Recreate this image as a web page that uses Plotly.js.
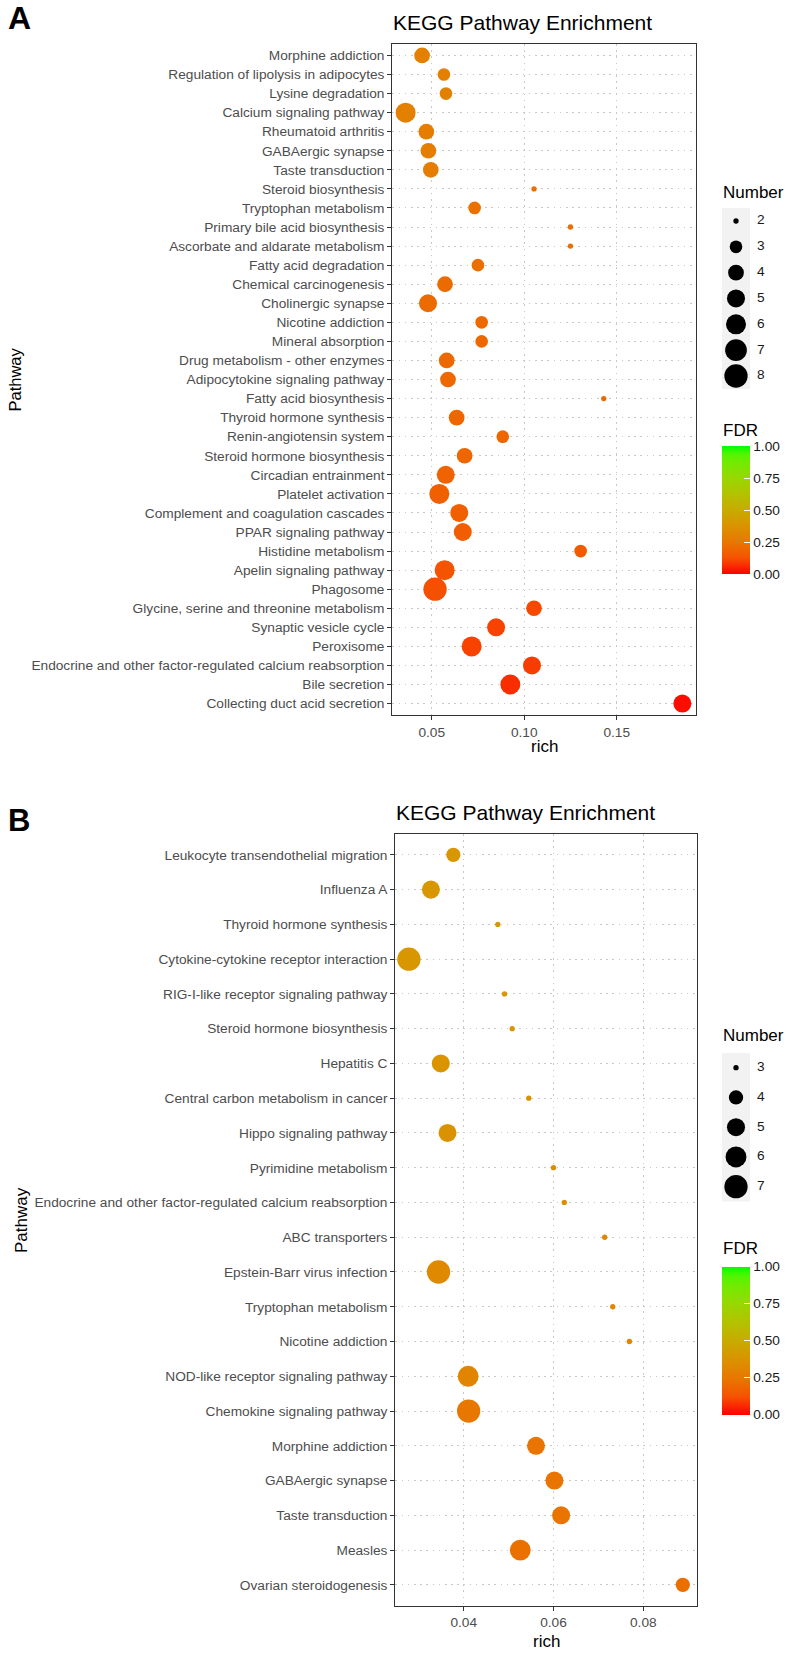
<!DOCTYPE html>
<html>
<head>
<meta charset="utf-8">
<script src="https://cdn.plot.ly/plotly-3.0.1.min.js"></script>
<style>html,body{margin:0;padding:0;background:#fff;}#chart{width:790px;height:1655px;}</style>
</head>
<body>
<div id="chart"></div>
<script>
// ---------------- DATA ----------------
const pathwaysA = [
  "Morphine addiction", "Regulation of lipolysis in adipocytes", "Lysine degradation",
  "Calcium signaling pathway", "Rheumatoid arthritis", "GABAergic synapse", "Taste transduction",
  "Steroid biosynthesis", "Tryptophan metabolism", "Primary bile acid biosynthesis",
  "Ascorbate and aldarate metabolism", "Fatty acid degradation", "Chemical carcinogenesis",
  "Cholinergic synapse", "Nicotine addiction", "Mineral absorption",
  "Drug metabolism - other enzymes", "Adipocytokine signaling pathway", "Fatty acid biosynthesis",
  "Thyroid hormone synthesis", "Renin-angiotensin system", "Steroid hormone biosynthesis",
  "Circadian entrainment", "Platelet activation", "Complement and coagulation cascades",
  "PPAR signaling pathway", "Histidine metabolism", "Apelin signaling pathway", "Phagosome",
  "Glycine, serine and threonine metabolism", "Synaptic vesicle cycle", "Peroxisome",
  "Endocrine and other factor-regulated calcium reabsorption", "Bile secretion",
  "Collecting duct acid secretion"
];
const richA = [
  0.0448, 0.0566, 0.0577, 0.0359, 0.0471, 0.0482, 0.0495, 0.1053, 0.0732, 0.1250,
  0.1250, 0.0750, 0.0572, 0.0480, 0.0770, 0.0770, 0.0581, 0.0588, 0.1430, 0.0635,
  0.0884, 0.0678, 0.0576, 0.0541, 0.0649, 0.0668, 0.1305, 0.0570, 0.0518, 0.1053,
  0.0848, 0.0716, 0.1042, 0.0925, 0.1855
];
const countA = [
  4, 3, 3, 6, 4, 4, 4, 2, 3, 2,
  2, 3, 4, 5, 3, 3, 4, 4, 2, 4,
  3, 4, 5, 6, 5, 5, 3, 6, 8, 4,
  5, 6, 5, 6, 5
];
const fdrA = [
  0.29, 0.29, 0.29, 0.29, 0.28, 0.28, 0.28, 0.23, 0.23, 0.22,
  0.22, 0.22, 0.21, 0.21, 0.20, 0.20, 0.20, 0.20, 0.20, 0.19,
  0.19, 0.19, 0.18, 0.17, 0.17, 0.16, 0.15, 0.13, 0.12, 0.11,
  0.10, 0.10, 0.09, 0.07, 0.02
];

const pathwaysB = [
  "Leukocyte transendothelial migration", "Influenza A", "Thyroid hormone synthesis",
  "Cytokine-cytokine receptor interaction", "RIG-I-like receptor signaling pathway",
  "Steroid hormone biosynthesis", "Hepatitis C", "Central carbon metabolism in cancer",
  "Hippo signaling pathway", "Pyrimidine metabolism",
  "Endocrine and other factor-regulated calcium reabsorption", "ABC transporters",
  "Epstein-Barr virus infection", "Tryptophan metabolism", "Nicotine addiction",
  "NOD-like receptor signaling pathway", "Chemokine signaling pathway", "Morphine addiction",
  "GABAergic synapse", "Taste transduction", "Measles", "Ovarian steroidogenesis"
];
const richB = [
  0.0377, 0.0327, 0.0476, 0.0278, 0.0491, 0.0508, 0.0349, 0.0545, 0.0364, 0.0600,
  0.0624, 0.0714, 0.0344, 0.0732, 0.0769, 0.0410, 0.0411, 0.0561, 0.0602, 0.0617,
  0.0526, 0.0888
];
const countB = [
  4, 5, 3, 7, 3, 3, 5, 3, 5, 3,
  3, 3, 7, 3, 3, 6, 7, 5, 5, 5,
  6, 4
];
const fdrB = [
  0.39, 0.39, 0.39, 0.39, 0.39, 0.39, 0.38, 0.37, 0.37, 0.35,
  0.35, 0.33, 0.33, 0.32, 0.31, 0.31, 0.25, 0.24, 0.24, 0.24,
  0.23, 0.22
];

const numberLegendA = [2, 3, 4, 5, 6, 7, 8];
const numberLegendB = [3, 4, 5, 6, 7];
const fdrTicks = [0, 0.25, 0.5, 0.75, 1];
const fdrTickText = ["0.00", "0.25", "0.50", "0.75", "1.00"];
const xTicksA = [0.05, 0.10, 0.15];
const xTicksB = [0.04, 0.06, 0.08];
const chartTitle = "KEGG Pathway Enrichment";

// ---------------- STYLE / SCALES ----------------
const W = 790, H = 1655;
const FONT = "Liberation Sans, Arial, Helvetica, sans-serif";
const px = p => p / W;
const py = p => 1 - p / H;
// ggplot-like area scale: diameter in px
function sizeScale(lo, hi) {
  return c => 3.6 * (1 + 5 * Math.sqrt((c - lo) / (hi - lo))) + 1.7;
}
const sizeA = sizeScale(2, 8);
const sizeB = sizeScale(3, 7);
// red -> green interpolated in Lab (as ggplot scale_colour_gradient)
const fdrScale = [
  [0, "#FF0000"], [0.125, "#F55300"], [0.25, "#E87700"], [0.375, "#DA9300"],
  [0.5, "#C8AB00"], [0.625, "#B3C200"], [0.75, "#98D700"], [0.875, "#70EB00"],
  [0.9375, "#51F500"], [1, "#00FF00"]
];

function colorbar(topPx, lenPx) {
  return {
    x: px(722), xanchor: "left", xpad: 0,
    y: py(topPx), yanchor: "top", ypad: 0,
    thickness: 28, thicknessmode: "pixels",
    len: lenPx, lenmode: "pixels",
    outlinewidth: 0,
    tickmode: "array", tickvals: fdrTicks, ticktext: fdrTickText,
    ticks: "inside", ticklen: 6, tickcolor: "#FFFFFF", tickwidth: 1,
    tickfont: {family: FONT, size: 13.7, color: "#1A1A1A"},
    title: {text: ""}
  };
}

const traces = [
  {
    type: "scatter", mode: "markers", xaxis: "x", yaxis: "y",
    x: richA, y: pathwaysA,
    marker: {
      size: countA.map(sizeA), color: fdrA, cmin: 0, cmax: 1,
      colorscale: fdrScale, showscale: true, colorbar: colorbar(446, 128.3),
      line: {width: 0}, opacity: 1
    },
    hoverinfo: "skip", showlegend: false
  },
  {
    type: "scatter", mode: "markers", xaxis: "x2", yaxis: "y2",
    x: richB, y: pathwaysB,
    marker: {
      size: countB.map(sizeB), color: fdrB, cmin: 0, cmax: 1,
      colorscale: fdrScale, showscale: true, colorbar: colorbar(1266.7, 147.6),
      line: {width: 0}, opacity: 1
    },
    hoverinfo: "skip", showlegend: false
  },
  // Number legend A
  {
    type: "scatter", mode: "markers", xaxis: "x3", yaxis: "y3", opacity: 1,
    x: numberLegendA.map(() => 14), y: numberLegendA,
    marker: {size: numberLegendA.map(sizeA), color: "#000000", opacity: 1, line: {width: 0}},
    hoverinfo: "skip", showlegend: false, cliponaxis: false
  },
  {
    type: "scatter", mode: "text", xaxis: "x3", yaxis: "y3",
    x: numberLegendA.map(() => 35), y: numberLegendA,
    text: numberLegendA.map(String), textposition: "middle right",
    textfont: {family: FONT, size: 13.7, color: "#1A1A1A"},
    hoverinfo: "skip", showlegend: false, cliponaxis: false
  },
  // Number legend B
  {
    type: "scatter", mode: "markers", xaxis: "x4", yaxis: "y4", opacity: 1,
    x: numberLegendB.map(() => 14), y: numberLegendB,
    marker: {size: numberLegendB.map(sizeB), color: "#000000", opacity: 1, line: {width: 0}},
    hoverinfo: "skip", showlegend: false, cliponaxis: false
  },
  {
    type: "scatter", mode: "text", xaxis: "x4", yaxis: "y4",
    x: numberLegendB.map(() => 35), y: numberLegendB,
    text: numberLegendB.map(String), textposition: "middle right",
    textfont: {family: FONT, size: 13.7, color: "#1A1A1A"},
    hoverinfo: "skip", showlegend: false, cliponaxis: false
  }
];

const gridStyle = {
  showgrid: true, gridcolor: "#C8C8C8", gridwidth: 1, griddash: "1.6px,4.6px",
  showline: true, mirror: true, linecolor: "#333333", linewidth: 1.1,
  ticks: "outside", ticklen: 4, tickcolor: "#333333", tickwidth: 1,
  zeroline: false, fixedrange: true,
  tickfont: {family: FONT, size: 13.7, color: "#4D4D4D"}
};

function catAxis(names, domTop, domBottom, anchor) {
  return Object.assign({}, gridStyle, {
    type: "category", categoryorder: "array", categoryarray: names.slice().reverse(),
    range: [-0.6, names.length - 0.4], autorange: false,
    domain: [py(domBottom), py(domTop)], anchor: anchor
  });
}
function numAxis(range, ticks, domL, domR, anchor) {
  return Object.assign({}, gridStyle, {
    range: range, autorange: false, tickmode: "array", tickvals: ticks,
    ticktext: ticks.map(v => v.toFixed(2)),
    domain: [px(domL), px(domR)], anchor: anchor
  });
}
const hiddenAxis = (domain, range, anchor) => ({
  domain: domain, range: range, autorange: false, visible: false,
  showgrid: false, zeroline: false, fixedrange: true, anchor: anchor
});

function ann(text, xp, yp, opts) {
  return Object.assign({
    text: text, xref: "paper", yref: "paper", x: px(xp), y: py(yp),
    xanchor: "left", yanchor: "middle", showarrow: false,
    font: {family: FONT, size: 17, color: "#000000"}
  }, opts || {});
}

const layout = {
  width: W, height: H,
  margin: {l: 0, r: 0, t: 0, b: 0, pad: 0},
  paper_bgcolor: "#FFFFFF", plot_bgcolor: "#FFFFFF",
  showlegend: false,
  xaxis: numAxis([0.0287, 0.1927], xTicksA, 392.3, 695.7, "y"),
  yaxis: catAxis(pathwaysA, 44, 715, "x"),
  xaxis2: numAxis([0.02477, 0.09189], xTicksB, 395.3, 696.7, "y2"),
  yaxis2: catAxis(pathwaysB, 834, 1605.7, "x2"),
  xaxis3: hiddenAxis([px(722), px(790)], [0, 68], "y3"),
  yaxis3: hiddenAxis([py(389), py(208)], [8.504, 1.497], "x3"),
  xaxis4: hiddenAxis([px(722), px(790)], [0, 68], "y4"),
  yaxis4: hiddenAxis([py(1201.7), py(1052.7)], [7.504, 2.496], "x4"),
  shapes: [
    {type: "rect", xref: "x3", yref: "y3", x0: 0, x1: 28, y0: 1.497, y1: 8.504,
     fillcolor: "#F2F2F2", line: {width: 0}, layer: "below"},
    {type: "rect", xref: "x4", yref: "y4", x0: 0, x1: 28, y0: 2.496, y1: 7.504,
     fillcolor: "#F2F2F2", line: {width: 0}, layer: "below"}
  ],
  annotations: [
    ann("<b>A</b>", 6, 18, {font: {family: FONT, size: 32, color: "#000"}}),
    ann("<b>B</b>", 6, 820, {font: {family: FONT, size: 31, color: "#000"}}),
    ann(chartTitle, 391, 23, {font: {family: FONT, size: 21, color: "#000"}}),
    ann(chartTitle, 394, 812, {font: {family: FONT, size: 21, color: "#000"}}),
    ann("Pathway", 15, 379.5, {xanchor: "center", textangle: -90, font: {family: FONT, size: 16.5, color: "#000"}}),
    ann("Pathway", 21, 1220, {xanchor: "center", textangle: -90, font: {family: FONT, size: 17, color: "#000"}}),
    ann("rich", 544, 746, {xanchor: "center", font: {family: FONT, size: 17, color: "#000"}}),
    ann("rich", 546, 1641, {xanchor: "center", font: {family: FONT, size: 17, color: "#000"}}),
    ann("Number", 721, 192),
    ann("Number", 721, 1035),
    ann("FDR", 721, 430),
    ann("FDR", 721, 1248)
  ]
};

Plotly.newPlot("chart", traces, layout, {displayModeBar: false, staticPlot: true});
</script>
</body>
</html>
